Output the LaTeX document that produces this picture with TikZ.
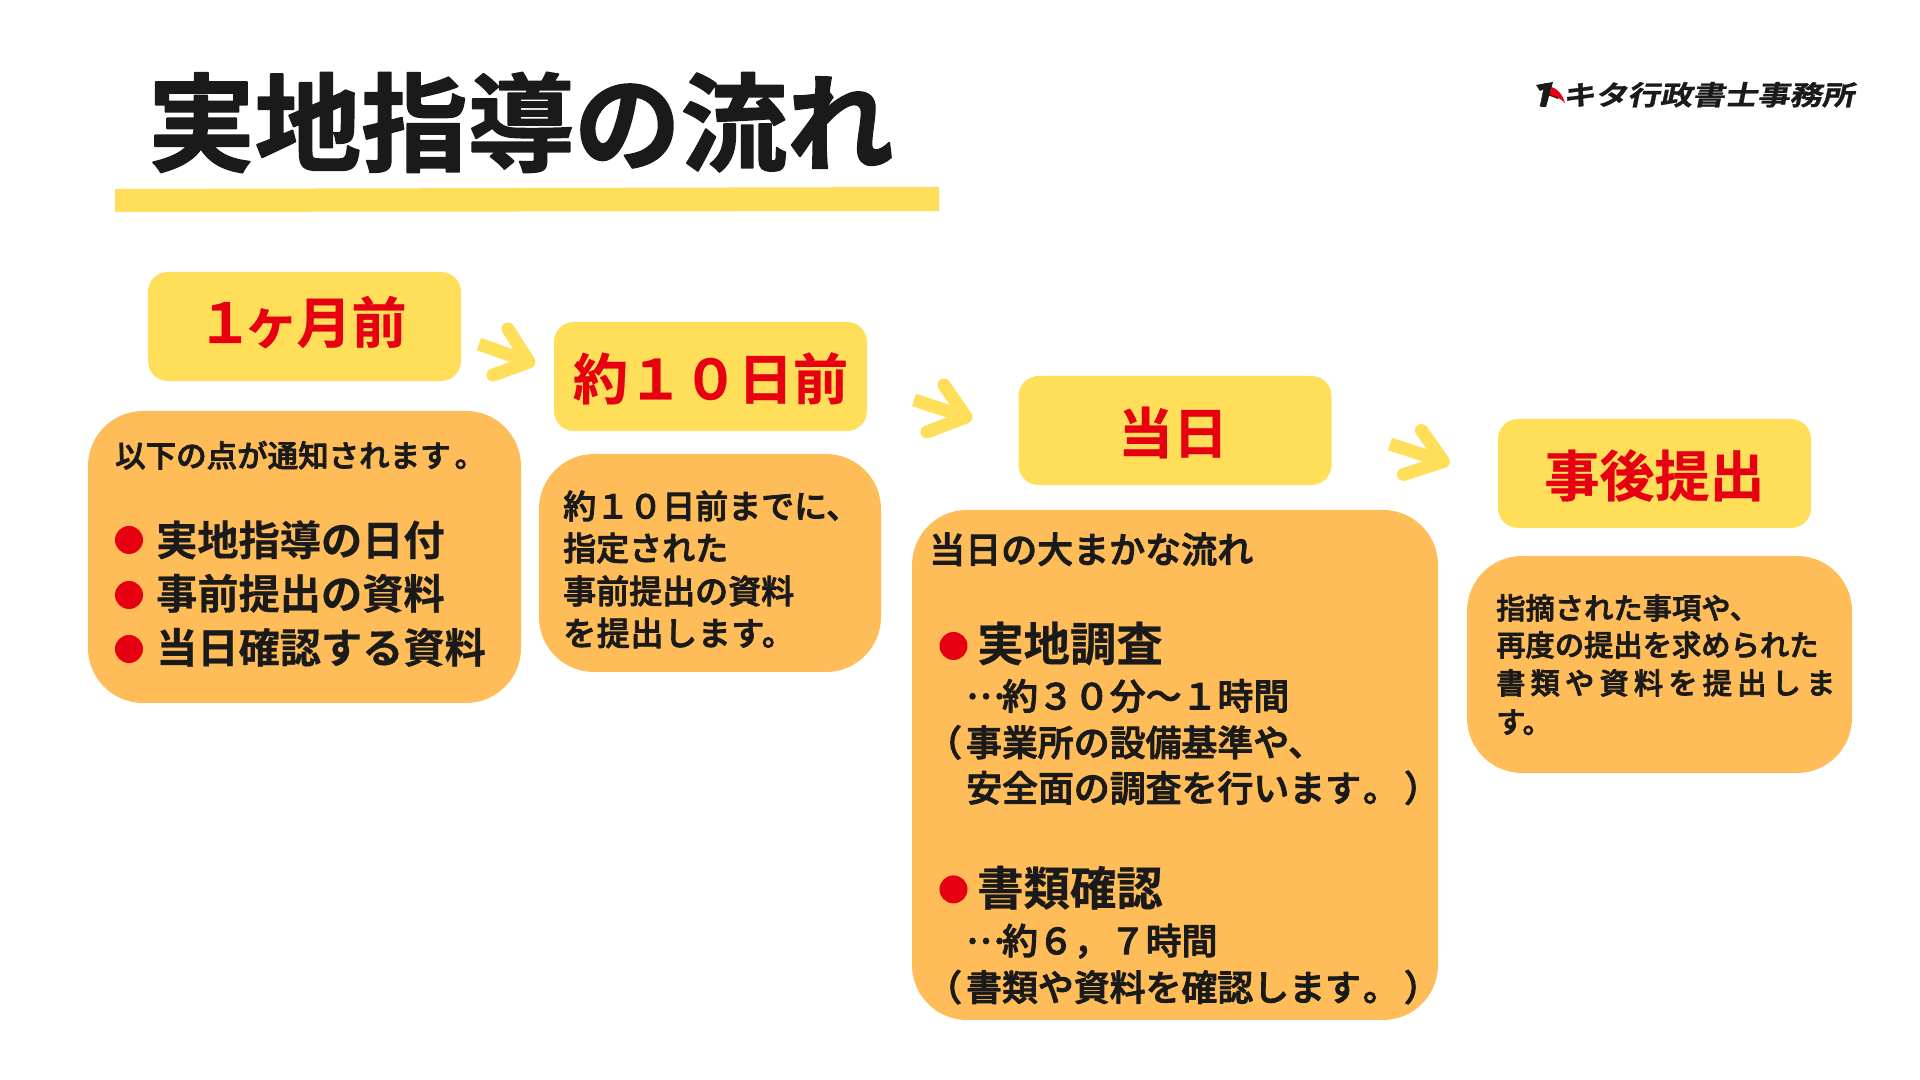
\documentclass[tikz,border=0pt]{standalone}
\usepackage{fontspec}
\setmainfont{Noto Sans CJK JP Medium}[FakeBold=2.5,BoldFont={Noto Sans CJK JP Bold},BoldFeatures={FakeBold=0.5}]
\newfontfamily\titlefont{Noto Sans CJK JP Bold}[FakeBold=1.5]
\newfontfamily\logofont{Noto Sans CJK JP Bold}[FakeSlant=0.2,FakeStretch=1.2,FakeBold=1]
\definecolor{markyellow}{HTML}{FFDE59}
\definecolor{panelorange}{HTML}{FFBD59}
\definecolor{headred}{HTML}{E60012}
\definecolor{inkblack}{HTML}{1A1A1A}
\newcommand{\midots}{\makebox[1em][l]{\raisebox{.3em}{…}}}
\tikzset{
  headbox/.style={fill=markyellow,rounded corners=20bp,minimum width=313bp,minimum height=109bp,inner sep=0pt,
    text=headred,font=\bfseries\fontsize{55bp}{60bp}\selectfont,text height=52.4bp,text depth=6.6bp},
  panel/.style={fill=panelorange,rounded corners=55bp,inner sep=0pt},
  line/.style={anchor=base west,inner sep=0pt,text=inkblack,font=\fontsize{#1}{#1}\selectfont},
  boldline/.style={anchor=base west,inner sep=0pt,text=inkblack,font=\bfseries\fontsize{#1}{#1}\selectfont},
  dot/.style={circle,fill=headred,inner sep=0pt,minimum size=28bp},
  nextarrow/.style={draw=markyellow,line width=13bp,line cap=round,line join=round},
}
\begin{document}
\begin{tikzpicture}[line join=bevel,]
\useasboundingbox (0bp,0bp) rectangle (1920bp,1080bp);
%% title and logo
\fill [markyellow] (115bp,891bp) -- (939bp,893bp) -- (939bp,869bp) -- (115bp,868bp) -- cycle;
\node (title) at (148bp,917bp) [anchor=base west,inner sep=0pt,text=inkblack,font=\titlefont\fontsize{106.5bp}{106bp}\selectfont] {実地指導の流れ};
\node (logo) at (1530bp,975bp) [anchor=base west,inner sep=0pt,text=inkblack,font=\logofont\fontsize{27bp}{27bp}\selectfont] {トキタ行政書士事務所};
\fill [inkblack] (1536bp,995bp) -- (1553bp,998bp) -- (1546bp,973bp) -- (1541bp,973bp) -- (1545bp,991bp) -- (1540bp,989bp) -- cycle;
\fill [headred] (1551bp,993bp) .. controls (1559bp,991bp) and (1563bp,984bp) .. (1565bp,977bp) .. controls (1560bp,982bp) and (1555bp,984bp) .. (1550bp,985bp) -- cycle;
%% heads
\node (head_1) at (304.5bp,753.5bp) [headbox,text height=48.4bp,text depth=15.6bp] {１\kern-9bp ヶ\kern-2bp 月前\kern5bp};
\node (head_2) at (710.5bp,703.5bp) [headbox] {約１０日前};
\node (head_3) at (1175bp,649.5bp) [headbox] {当日\kern4bp};
\node (head_4) at (1654.5bp,606.5bp) [headbox] {事後提出};
%% panels
\node (panel_1) at (304.5bp,523bp) [panel,minimum width=433bp,minimum height=292bp] {};
\node (panel_2) at (710bp,517bp) [panel,minimum width=342bp,minimum height=218bp] {};
\node (panel_3) at (1175bp,315bp) [panel,minimum width=526bp,minimum height=510bp] {};
\node (panel_4) at (1659.5bp,415.5bp) [panel,minimum width=385bp,minimum height=217bp] {};
%% arrows
\coordinate (arrow_1_tail) at (479bp,736bp);
\coordinate (arrow_1_tip) at (529bp,718bp);
\coordinate (arrow_1_up) at (508bp,751bp);
\coordinate (arrow_1_low) at (493bp,705bp);
\coordinate (arrow_2_tail) at (914bp,680bp);
\coordinate (arrow_2_tip) at (966bp,663bp);
\coordinate (arrow_2_up) at (944bp,695bp);
\coordinate (arrow_2_low) at (927bp,648bp);
\coordinate (arrow_3_tail) at (1390bp,636bp);
\coordinate (arrow_3_tip) at (1443.5bp,618.5bp);
\coordinate (arrow_3_up) at (1421.5bp,649.5bp);
\coordinate (arrow_3_low) at (1403.5bp,605.5bp);
\foreach \i in {1,2,3} {
  \draw [nextarrow,line cap=butt] (arrow_\i_tail) -- (arrow_\i_tip);
  \draw [nextarrow] (arrow_\i_up) -- (arrow_\i_tip) -- (arrow_\i_low);
}
%% text of panel 1
\node (text_1a) at (115bp,613bp) [line=30.5bp] {以下の点が通知されます\kern4bp 。};
\node (dot_1a) at (129bp,540bp) [dot] {};
\node (dot_1b) at (129bp,485bp) [dot] {};
\node (dot_1c) at (129bp,431bp) [dot] {};
\node (text_1b) at (156bp,524.5bp) [boldline=41.2bp] {実地指導の日付};
\node (text_1c) at (156bp,471bp) [boldline=41.2bp] {事前提出の資料};
\node (text_1d) at (156bp,417bp) [boldline=41.2bp] {当日確認する資料};
%% text of panel 2
\node (text_2a) at (563bp,561.5bp) [line=33bp] {約１０日前までに、};
\node (text_2b) at (563bp,519.5bp) [line=33bp] {指定された};
\node (text_2c) at (563bp,476.5bp) [line=33bp] {事前提出の資料};
\node (text_2d) at (563bp,434.5bp) [line=33bp] {\addfontfeature{LetterSpace=2}を提出します。};
%% text of panel 3
\node (text_3a) at (929bp,517bp) [line=36bp] {当日の大まかな流れ};
\node (dot_3a) at (953.5bp,434bp) [dot] {};
\node (text_3b) at (977bp,419bp) [boldline=46.4bp] {実地調査};
\node (text_3c) at (966bp,370.5bp) [line=35.9bp] {\midots 約３０分～１時間};
\node (text_3d) at (930bp,324bp) [line=35.9bp] {\kern-4bp（\kern4bp 事業所の設備基準や、};
\node (text_3e) at (966bp,278.5bp) [line=35.9bp] {安全面の調査を行います\kern2bp 。\kern5bp ）};
\node (dot_3b) at (953.5bp,190.6bp) [dot] {};
\node (text_3f) at (977bp,174.6bp) [boldline=46.4bp] {書類確認};
\node (text_3g) at (966bp,125.8bp) [line=35.9bp] {\midots 約６，７時間};
\node (text_3h) at (930bp,79.2bp) [line=35.9bp] {\kern-4bp（\kern4bp 書類や資料を確認します\kern2bp 。\kern5bp ）};
%% text of panel 4
\node (text_4a) at (1496bp,461bp) [line=29.3bp] {指摘された事項や、};
\node (text_4b) at (1496bp,424bp) [line=29.3bp] {再度の提出を求められた};
\node (text_4c) at (1496bp,386bp) [line=29.3bp] {\addfontfeature{LetterSpace=17.5}書類や資料を提出しま};
\node (text_4d) at (1496bp,347bp) [line=29.3bp] {す。};
%
\end{tikzpicture}
\end{document}
